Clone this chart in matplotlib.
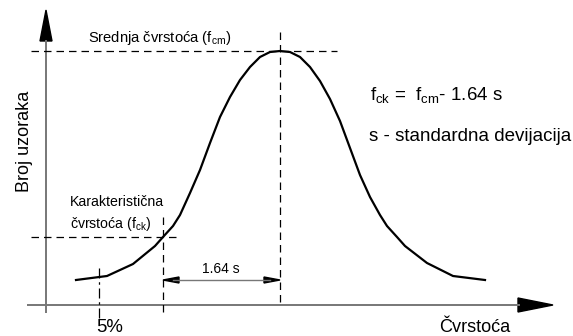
import matplotlib.pyplot as plt
from matplotlib.patches import Polygon

plt.rcParams['font.family'] = ['Liberation Sans', 'DejaVu Sans']
plt.rcParams['mathtext.fontset'] = 'custom'
plt.rcParams['mathtext.rm'] = 'Liberation Sans'
plt.rcParams['mathtext.it'] = 'Liberation Sans'

# crtež je u pikselima slike (y raste prema dolje)
curve_x = [76, 107, 133, 155, 163, 173, 180, 190, 200, 210, 220, 230, 240, 250, 260, 270, 280,
           290, 300, 310, 320, 330, 340, 350, 360, 370, 380, 387, 397, 405, 427, 453, 485]
curve_y = [280, 276, 264, 246, 237, 226, 215, 193, 170, 143, 117, 97, 80, 67, 57, 52, 51,
           52, 57, 67, 81, 99, 121, 148, 175, 197, 215, 226, 237, 246, 263, 276, 280]

x_axis_y = 305
y_axis_x = 46
fcm_x, fcm_y = 280, 51
fck_x, fck_y = 163, 237
p5_x = 99
dim_y = 280

AXIS_C = "#777777"

fig = plt.figure(figsize=(5.73, 3.36), dpi=100)
ax = fig.add_axes([0, 0, 1, 1])
ax.set_xlim(0, 573)
ax.set_ylim(336, 0)
ax.axis("off")

# osi sa strelicama
ax.plot([27, 520], [x_axis_y, x_axis_y], color=AXIS_C, lw=1.4, solid_capstyle="butt")
ax.add_patch(Polygon([[518, x_axis_y - 7], [553, x_axis_y], [518, x_axis_y + 7]], closed=True, color="black"))
ax.plot([y_axis_x, y_axis_x], [313, 40], color=AXIS_C, lw=1.4, solid_capstyle="butt")
ax.add_patch(Polygon([[y_axis_x - 6, 41], [y_axis_x, 10], [y_axis_x + 6, 41]], closed=True, color="black"))

# isprekidane linije
dash = dict(color="black", lw=0.9, linestyle=(0, (6, 4)))
ax.plot([31, 337], [fcm_y, fcm_y], **dash)
ax.plot([fcm_x, fcm_x], [32, x_axis_y], **dash)
ax.plot([31, 181], [fck_y, fck_y], **dash)
ax.plot([fck_x, fck_x], [217, 312], **dash)
ax.plot([p5_x, p5_x], [268, 318], color="black", lw=0.9, linestyle=(0, (8, 3, 2, 3)))

# krivulja
ax.plot(curve_x, curve_y, color="black", lw=1.6, solid_joinstyle="round")

# kota 1.64 s
ax.plot([fck_x + 10, fcm_x - 10], [dim_y, dim_y], color=AXIS_C, lw=1.0)
ax.add_patch(Polygon([[fck_x, dim_y], [fck_x + 16, dim_y - 3], [fck_x + 16, dim_y + 3]], closed=True, color="black"))
ax.add_patch(Polygon([[fcm_x, dim_y], [fcm_x - 16, dim_y - 3], [fcm_x - 16, dim_y + 3]], closed=True, color="black"))
ax.text((fck_x + fcm_x) / 2 - 0.5, 273, "1.64 s", ha="center", va="baseline", fontsize=10)

# tekstovi
ax.text(88, 42, r"Srednja čvrstoća (f$_{\mathrm{cm}}$)", ha="left", va="baseline", fontsize=10.6)
ax.text(70, 206, "Karakteristična", ha="left", va="baseline", fontsize=10.2)
ax.text(70, 228, r"čvrstoća (f$_{\mathrm{ck}}$)", ha="left", va="baseline", fontsize=10.2)
ax.text(24.5, 141, "Broj uzoraka", rotation=90, ha="center", va="center", fontsize=13)
ax.text(96, 332, "5%", ha="left", va="baseline", fontsize=13.4)
ax.text(439, 332, "Čvrstoća", ha="left", va="baseline", fontsize=13.1)
ax.text(370, 100, r"f$_{\mathrm{ck}}$ =  f$_{\mathrm{cm}}$- 1.64 s", ha="left", va="baseline", fontsize=13.5)
ax.text(369, 141, "s - standardna devijacija", ha="left", va="baseline", fontsize=13.5)

fig.savefig("out.png", dpi=100)
